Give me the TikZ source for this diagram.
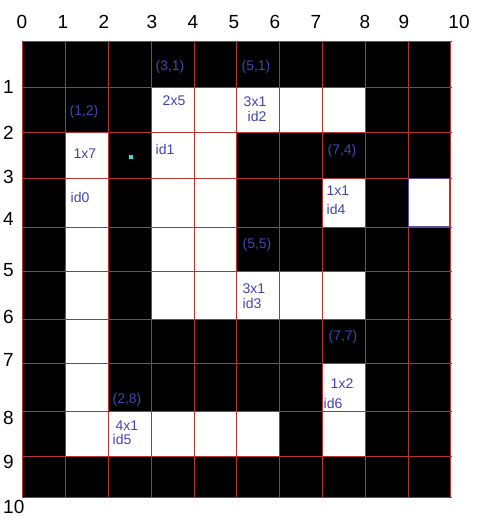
\documentclass[tikz,border=0pt]{standalone}
\usepackage{fontspec}
\setmainfont{Liberation Sans}
\definecolor{gridred}{RGB}{178,52,52}
\definecolor{lblue}{RGB}{68,68,176}
\definecolor{bbox}{RGB}{90,80,160}
\definecolor{dotcyan}{RGB}{60,220,220}
\begin{document}
\begin{tikzpicture}[x=1pt,y=-1pt,
  axis/.style={font=\fontsize{19}{21}\selectfont, inner sep=0pt, text=black},
  lbl/.style={font=\fontsize{14}{16}\selectfont, inner sep=0pt, text=lblue},
  lbll/.style={lbl, anchor=west},
  cellw/.style={fill=white}]
\useasboundingbox[fill=white] (0,0) rectangle (488,529);
% black board
\fill[black] (22,41) rectangle (450,497);
% white cells
\fill[cellw] (151,87) rectangle (365,132);
\fill[cellw] (65,132) rectangle (108,456);
\fill[cellw] (151,132) rectangle (236,319);
\fill[cellw] (322,178) rectangle (365,227);
\fill[cellw] (236,271) rectangle (365,319);
\fill[cellw] (322,363) rectangle (365,456);
\fill[cellw] (108,411) rectangle (279,456);
% grid lines
\foreach \x in {22,65,108,151,194,236,279,322,365,408,450}
  \draw[gridred, line width=0.9pt] (\x,41) -- (\x,497);
\foreach \y in {41,87,132,178,227,271,319,363,411,456,497}
  \draw[gridred, line width=0.9pt] (22,\y) -- (452,\y);
% bordered cell
\draw[bbox, fill=white, line width=1pt] (408.5,179) rectangle (449,226.5);
% cyan dot
\fill[dotcyan] (129,155.5) rectangle (133,159.5);
% column labels
\foreach \x/\t [count=\i] in {22/0,63/1,104/2,152/3,193/4,234/5,275/6,316/7,365/8,404/9,459/10}
  \node[axis] (c\i) at (\x,22) {\t};
% row labels
\foreach \y/\t [count=\i] in {87/1,133/2,177/3,219/4,270/5,317/6,360/7,418/8,462/9,507/10}
  \node[axis, anchor=west] (r\i) at (3,\y) {\t};
% cell labels
\node[lbl] (p31) at (170,67) {(3,1)};
\node[lbl] (p51) at (256,67) {(5,1)};
\node[lbl] (p12) at (84,112) {(1,2)};
\node[lbl] (s25) at (174,101) {2x5};
\node[lbl] (s31a) at (255,101.5) {3x1};
\node[lbl] (i2) at (257,116.5) {id2};
\node[lbl] (s17) at (85,154) {1x7};
\node[lbll] (i1) at (155.5,149) {id1};
\node[lbll] (i0) at (70.5,197) {id0};
\node[lbl] (p74) at (342,151) {(7,4)};
\node[lbll] (s11) at (326.5,191) {1x1};
\node[lbll] (i4) at (326.5,209) {id4};
\node[lbl] (p55) at (257,245) {(5,5)};
\node[lbll] (s31b) at (242.5,289) {3x1};
\node[lbll] (i3) at (242.5,303) {id3};
\node[lbl] (p77) at (343,337) {(7,7)};
\node[lbl] (s12) at (342,384) {1x2};
\node[lbll] (i6) at (323.5,403) {id6};
\node[lbl] (p28) at (127,400) {(2,8)};
\node[lbll] (s41) at (115.5,426) {4x1};
\node[lbll] (i5) at (112.5,439.5) {id5};
\end{tikzpicture}
\end{document}
